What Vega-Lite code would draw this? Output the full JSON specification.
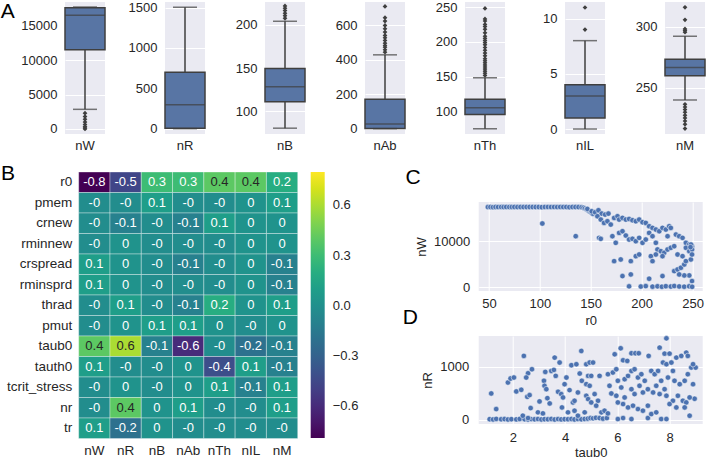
{
"$schema": "https://vega.github.io/schema/vega-lite/v6.json",
"background": "white",
"padding": {"left": 0, "top": 0, "right": 0, "bottom": 0},
"config": {
  "font": "Liberation Sans",
  "view": {"fill": "#EAEAF2", "stroke": null},
  "axis": {"domain": false, "ticks": false, "gridColor": "white", "gridWidth": 1, "labelFontSize": 13, "labelColor": "#262626", "titleFontSize": 13, "titleFontWeight": "normal", "titleColor": "#262626", "labelPadding": 8},
  "title": {"fontSize": 21, "fontWeight": "normal", "color": "#000000", "anchor": "start", "frame": "bounds"},
  "legend": {"labelFontSize": 13, "labelColor": "#262626"}
},
"datasets": {
  "box": [
    {"k": "nW", "lo": 2850, "q1": 11500, "med": 16490, "q3": 17600, "hi": 17700},
    {"k": "nR", "lo": 0, "q1": 4, "med": 296, "q3": 698, "hi": 1505},
    {"k": "nB", "lo": 80.7, "q1": 111.2, "med": 128.5, "q3": 149.3, "hi": 203.8},
    {"k": "nAb", "lo": 0, "q1": 1, "med": 27, "q3": 171, "hi": 429},
    {"k": "nTh", "lo": 75.5, "q1": 96.1, "med": 105.8, "q3": 117.7, "hi": 148.6},
    {"k": "nIL", "lo": 0, "q1": 1, "med": 3, "q3": 4, "hi": 8},
    {"k": "nM", "lo": 240.2, "q1": 260, "med": 266.7, "q3": 273.3, "hi": 292.1}
  ],
  "out": [
    {"k": "nW", "val": 2300}, {"k": "nW", "val": 1800}, {"k": "nW", "val": 1400}, {"k": "nW", "val": 1000}, {"k": "nW", "val": 650}, {"k": "nW", "val": 350}, {"k": "nW", "val": 150}, {"k": "nW", "val": 0},
    {"k": "nB", "val": 207.2}, {"k": "nB", "val": 210.3}, {"k": "nB", "val": 213}, {"k": "nB", "val": 216.1}, {"k": "nB", "val": 218.8}, {"k": "nB", "val": 221.5},
    {"k": "nAb", "val": 444.5}, {"k": "nAb", "val": 458.4}, {"k": "nAb", "val": 473.5}, {"k": "nAb", "val": 483.4}, {"k": "nAb", "val": 496.8}, {"k": "nAb", "val": 512.5}, {"k": "nAb", "val": 528.4}, {"k": "nAb", "val": 541.9}, {"k": "nAb", "val": 561}, {"k": "nAb", "val": 580.5}, {"k": "nAb", "val": 600}, {"k": "nAb", "val": 625}, {"k": "nAb", "val": 644.7}, {"k": "nAb", "val": 710.5},
    {"k": "nTh", "val": 152}, {"k": "nTh", "val": 155}, {"k": "nTh", "val": 158}, {"k": "nTh", "val": 161}, {"k": "nTh", "val": 164}, {"k": "nTh", "val": 167}, {"k": "nTh", "val": 170}, {"k": "nTh", "val": 173}, {"k": "nTh", "val": 176}, {"k": "nTh", "val": 180}, {"k": "nTh", "val": 184}, {"k": "nTh", "val": 188}, {"k": "nTh", "val": 192}, {"k": "nTh", "val": 196}, {"k": "nTh", "val": 199}, {"k": "nTh", "val": 202}, {"k": "nTh", "val": 205}, {"k": "nTh", "val": 208}, {"k": "nTh", "val": 213}, {"k": "nTh", "val": 218}, {"k": "nTh", "val": 222}, {"k": "nTh", "val": 225}, {"k": "nTh", "val": 230}, {"k": "nTh", "val": 233}, {"k": "nTh", "val": 248},
    {"k": "nIL", "val": 9}, {"k": "nIL", "val": 11},
    {"k": "nM", "val": 315.7}, {"k": "nM", "val": 305.5}, {"k": "nM", "val": 298.1}, {"k": "nM", "val": 296.7}, {"k": "nM", "val": 295.4}, {"k": "nM", "val": 236.7}, {"k": "nM", "val": 234.5}, {"k": "nM", "val": 232.4}, {"k": "nM", "val": 230.2}, {"k": "nM", "val": 227.7}, {"k": "nM", "val": 225.6}, {"k": "nM", "val": 223.1}, {"k": "nM", "val": 220.4}, {"k": "nM", "val": 216.9}
  ],
  "heat": [
    {"row": "r0", "col": "nW", "v": -0.79, "t": "-0.8"}, {"row": "r0", "col": "nR", "v": -0.46, "t": "-0.5"}, {"row": "r0", "col": "nB", "v": 0.3, "t": "0.3"}, {"row": "r0", "col": "nAb", "v": 0.3, "t": "0.3"}, {"row": "r0", "col": "nTh", "v": 0.4, "t": "0.4"}, {"row": "r0", "col": "nIL", "v": 0.4, "t": "0.4"}, {"row": "r0", "col": "nM", "v": 0.2, "t": "0.2"},
    {"row": "pmem", "col": "nW", "v": -0.02, "t": "-0"}, {"row": "pmem", "col": "nR", "v": -0.02, "t": "-0"}, {"row": "pmem", "col": "nB", "v": 0.1, "t": "0.1"}, {"row": "pmem", "col": "nAb", "v": -0.02, "t": "-0"}, {"row": "pmem", "col": "nTh", "v": -0.02, "t": "-0"}, {"row": "pmem", "col": "nIL", "v": 0.02, "t": "0"}, {"row": "pmem", "col": "nM", "v": 0.1, "t": "0.1"},
    {"row": "crnew", "col": "nW", "v": -0.02, "t": "-0"}, {"row": "crnew", "col": "nR", "v": -0.1, "t": "-0.1"}, {"row": "crnew", "col": "nB", "v": -0.02, "t": "-0"}, {"row": "crnew", "col": "nAb", "v": -0.1, "t": "-0.1"}, {"row": "crnew", "col": "nTh", "v": 0.1, "t": "0.1"}, {"row": "crnew", "col": "nIL", "v": 0.02, "t": "0"}, {"row": "crnew", "col": "nM", "v": 0.02, "t": "0"},
    {"row": "rminnew", "col": "nW", "v": -0.02, "t": "-0"}, {"row": "rminnew", "col": "nR", "v": 0.02, "t": "0"}, {"row": "rminnew", "col": "nB", "v": -0.02, "t": "-0"}, {"row": "rminnew", "col": "nAb", "v": -0.02, "t": "-0"}, {"row": "rminnew", "col": "nTh", "v": -0.02, "t": "-0"}, {"row": "rminnew", "col": "nIL", "v": 0.02, "t": "0"}, {"row": "rminnew", "col": "nM", "v": 0.02, "t": "0"},
    {"row": "crspread", "col": "nW", "v": 0.1, "t": "0.1"}, {"row": "crspread", "col": "nR", "v": 0.02, "t": "0"}, {"row": "crspread", "col": "nB", "v": -0.02, "t": "-0"}, {"row": "crspread", "col": "nAb", "v": -0.1, "t": "-0.1"}, {"row": "crspread", "col": "nTh", "v": -0.02, "t": "-0"}, {"row": "crspread", "col": "nIL", "v": 0.02, "t": "0"}, {"row": "crspread", "col": "nM", "v": -0.1, "t": "-0.1"},
    {"row": "rminsprd", "col": "nW", "v": 0.1, "t": "0.1"}, {"row": "rminsprd", "col": "nR", "v": 0.02, "t": "0"}, {"row": "rminsprd", "col": "nB", "v": -0.02, "t": "-0"}, {"row": "rminsprd", "col": "nAb", "v": -0.02, "t": "-0"}, {"row": "rminsprd", "col": "nTh", "v": -0.02, "t": "-0"}, {"row": "rminsprd", "col": "nIL", "v": 0.02, "t": "0"}, {"row": "rminsprd", "col": "nM", "v": -0.1, "t": "-0.1"},
    {"row": "thrad", "col": "nW", "v": -0.02, "t": "-0"}, {"row": "thrad", "col": "nR", "v": 0.1, "t": "0.1"}, {"row": "thrad", "col": "nB", "v": -0.02, "t": "-0"}, {"row": "thrad", "col": "nAb", "v": -0.1, "t": "-0.1"}, {"row": "thrad", "col": "nTh", "v": 0.2, "t": "0.2"}, {"row": "thrad", "col": "nIL", "v": 0.02, "t": "0"}, {"row": "thrad", "col": "nM", "v": 0.1, "t": "0.1"},
    {"row": "pmut", "col": "nW", "v": -0.02, "t": "-0"}, {"row": "pmut", "col": "nR", "v": 0.02, "t": "0"}, {"row": "pmut", "col": "nB", "v": 0.1, "t": "0.1"}, {"row": "pmut", "col": "nAb", "v": 0.1, "t": "0.1"}, {"row": "pmut", "col": "nTh", "v": 0.02, "t": "0"}, {"row": "pmut", "col": "nIL", "v": -0.02, "t": "-0"}, {"row": "pmut", "col": "nM", "v": 0.02, "t": "0"},
    {"row": "taub0", "col": "nW", "v": 0.4, "t": "0.4"}, {"row": "taub0", "col": "nR", "v": 0.6, "t": "0.6"}, {"row": "taub0", "col": "nB", "v": -0.1, "t": "-0.1"}, {"row": "taub0", "col": "nAb", "v": -0.6, "t": "-0.6"}, {"row": "taub0", "col": "nTh", "v": -0.02, "t": "-0"}, {"row": "taub0", "col": "nIL", "v": -0.2, "t": "-0.2"}, {"row": "taub0", "col": "nM", "v": -0.1, "t": "-0.1"},
    {"row": "tauth0", "col": "nW", "v": 0.1, "t": "0.1"}, {"row": "tauth0", "col": "nR", "v": -0.02, "t": "-0"}, {"row": "tauth0", "col": "nB", "v": -0.02, "t": "-0"}, {"row": "tauth0", "col": "nAb", "v": 0.02, "t": "0"}, {"row": "tauth0", "col": "nTh", "v": -0.42, "t": "-0.4"}, {"row": "tauth0", "col": "nIL", "v": 0.1, "t": "0.1"}, {"row": "tauth0", "col": "nM", "v": -0.1, "t": "-0.1"},
    {"row": "tcrit_stress", "col": "nW", "v": -0.02, "t": "-0"}, {"row": "tcrit_stress", "col": "nR", "v": 0.02, "t": "0"}, {"row": "tcrit_stress", "col": "nB", "v": -0.02, "t": "-0"}, {"row": "tcrit_stress", "col": "nAb", "v": 0.02, "t": "0"}, {"row": "tcrit_stress", "col": "nTh", "v": 0.1, "t": "0.1"}, {"row": "tcrit_stress", "col": "nIL", "v": -0.1, "t": "-0.1"}, {"row": "tcrit_stress", "col": "nM", "v": 0.1, "t": "0.1"},
    {"row": "nr", "col": "nW", "v": -0.02, "t": "-0"}, {"row": "nr", "col": "nR", "v": 0.4, "t": "0.4"}, {"row": "nr", "col": "nB", "v": 0.02, "t": "0"}, {"row": "nr", "col": "nAb", "v": 0.1, "t": "0.1"}, {"row": "nr", "col": "nTh", "v": -0.02, "t": "-0"}, {"row": "nr", "col": "nIL", "v": -0.02, "t": "-0"}, {"row": "nr", "col": "nM", "v": 0.1, "t": "0.1"},
    {"row": "tr", "col": "nW", "v": 0.1, "t": "0.1"}, {"row": "tr", "col": "nR", "v": -0.2, "t": "-0.2"}, {"row": "tr", "col": "nB", "v": 0.02, "t": "0"}, {"row": "tr", "col": "nAb", "v": -0.02, "t": "-0"}, {"row": "tr", "col": "nTh", "v": -0.02, "t": "-0"}, {"row": "tr", "col": "nIL", "v": -0.02, "t": "-0"}, {"row": "tr", "col": "nM", "v": -0.02, "t": "-0"}
  ],
  "sc": [
    {"r0": 49, "nW": 17440}, {"r0": 51.5, "nW": 17450}, {"r0": 54, "nW": 17420}, {"r0": 56.5, "nW": 17460}, {"r0": 59, "nW": 17440}, {"r0": 62, "nW": 17450}, {"r0": 64.5, "nW": 17430}, {"r0": 67, "nW": 17460}, {"r0": 70, "nW": 17440}, {"r0": 72.5, "nW": 17450}, {"r0": 75, "nW": 17460}, {"r0": 78, "nW": 17430}, {"r0": 81, "nW": 17450}, {"r0": 84, "nW": 17440}, {"r0": 87, "nW": 17450}, {"r0": 90, "nW": 17460}, {"r0": 93, "nW": 17440}, {"r0": 96, "nW": 17430}, {"r0": 99, "nW": 17450}, {"r0": 102, "nW": 17420}, {"r0": 105, "nW": 17450}, {"r0": 108, "nW": 17460}, {"r0": 111, "nW": 17440}, {"r0": 114, "nW": 17450}, {"r0": 117, "nW": 17430}, {"r0": 120, "nW": 17460}, {"r0": 123, "nW": 17440}, {"r0": 126, "nW": 17450}, {"r0": 129, "nW": 17420}, {"r0": 132, "nW": 17450}, {"r0": 135, "nW": 17440}, {"r0": 138, "nW": 17430}, {"r0": 141, "nW": 17400}, {"r0": 143, "nW": 17300}, {"r0": 144.5, "nW": 17150}, {"r0": 146, "nW": 16950}, {"r0": 147.5, "nW": 16700}, {"r0": 149, "nW": 16450}, {"r0": 150.5, "nW": 16250}, {"r0": 152, "nW": 16000},
    {"r0": 102.5, "nW": 13850}, {"r0": 135.3, "nW": 11090},
    {"r0": 146.7, "nW": 17028}, {"r0": 151, "nW": 16520}, {"r0": 154.3, "nW": 16303}, {"r0": 157.6, "nW": 16738}, {"r0": 160.8, "nW": 16013}, {"r0": 164.1, "nW": 15795}, {"r0": 167.4, "nW": 16013}, {"r0": 156.6, "nW": 15433}, {"r0": 159.9, "nW": 14708}, {"r0": 163.1, "nW": 13983}, {"r0": 166.4, "nW": 14345}, {"r0": 169.7, "nW": 13620}, {"r0": 173, "nW": 15070}, {"r0": 176.3, "nW": 15433}, {"r0": 177.9, "nW": 14708}, {"r0": 181.2, "nW": 15070}, {"r0": 184.5, "nW": 14708}, {"r0": 187.7, "nW": 14853}, {"r0": 191, "nW": 14563}, {"r0": 194.3, "nW": 14345}, {"r0": 197.6, "nW": 14708}, {"r0": 200.9, "nW": 14128}, {"r0": 204.1, "nW": 13983}, {"r0": 207.4, "nW": 13258}, {"r0": 210.7, "nW": 12895}, {"r0": 214, "nW": 12533}, {"r0": 217.3, "nW": 12170}, {"r0": 220.5, "nW": 12895}, {"r0": 223.8, "nW": 12533}, {"r0": 227.1, "nW": 13258}, {"r0": 228.7, "nW": 12895}, {"r0": 225.5, "nW": 11083}, {"r0": 233.7, "nW": 11445}, {"r0": 236.9, "nW": 11083}, {"r0": 240.2, "nW": 10720}, {"r0": 243.5, "nW": 9633}, {"r0": 246.8, "nW": 9270}, {"r0": 249.5, "nW": 8908}, {"r0": 248.5, "nW": 9270},
    {"r0": 158.2, "nW": 10720}, {"r0": 159.9, "nW": 10503}, {"r0": 171.3, "nW": 11083}, {"r0": 174.6, "nW": 9633}, {"r0": 177.9, "nW": 11808}, {"r0": 181.2, "nW": 12170}, {"r0": 184.5, "nW": 11228}, {"r0": 187.7, "nW": 10358}, {"r0": 191, "nW": 10503}, {"r0": 194.3, "nW": 9995}, {"r0": 197.6, "nW": 10720}, {"r0": 200.9, "nW": 9633}, {"r0": 204.1, "nW": 10358}, {"r0": 207.4, "nW": 11808}, {"r0": 210.7, "nW": 11083}, {"r0": 214, "nW": 9633}, {"r0": 215.6, "nW": 8183}, {"r0": 218.9, "nW": 7820}, {"r0": 222.2, "nW": 7458}, {"r0": 225.5, "nW": 8183}, {"r0": 228.7, "nW": 8545}, {"r0": 232, "nW": 8908}, {"r0": 235.3, "nW": 7095}, {"r0": 240.2, "nW": 6733}, {"r0": 243.5, "nW": 8545}, {"r0": 246.8, "nW": 7820}, {"r0": 249.5, "nW": 8183}, {"r0": 248, "nW": 8700},
    {"r0": 173, "nW": 5645}, {"r0": 179.5, "nW": 6008}, {"r0": 189.4, "nW": 5645}, {"r0": 194.3, "nW": 6733}, {"r0": 197.6, "nW": 7095}, {"r0": 209.1, "nW": 6733}, {"r0": 210.7, "nW": 5645}, {"r0": 214, "nW": 7095}, {"r0": 220.5, "nW": 6733}, {"r0": 232, "nW": 3470}, {"r0": 235.3, "nW": 3833}, {"r0": 238.6, "nW": 4195}, {"r0": 241.9, "nW": 4920}, {"r0": 243.5, "nW": 5645}, {"r0": 246.8, "nW": 2528}, {"r0": 241.9, "nW": 2528}, {"r0": 248.4, "nW": 6008}, {"r0": 249.5, "nW": 7095},
    {"r0": 181.2, "nW": 2383}, {"r0": 189.4, "nW": 2745}, {"r0": 207.4, "nW": 1803}, {"r0": 220.5, "nW": 2383}, {"r0": 236.9, "nW": 2745}, {"r0": 249.5, "nW": 1295},
    {"r0": 187.7, "nW": 150}, {"r0": 199.2, "nW": 100}, {"r0": 204.1, "nW": 200}, {"r0": 210.7, "nW": 80}, {"r0": 215.6, "nW": 150}, {"r0": 219.9, "nW": 50}, {"r0": 223.8, "nW": 180}, {"r0": 228.7, "nW": 100}, {"r0": 232, "nW": 220}, {"r0": 236.9, "nW": 120}, {"r0": 241.8, "nW": 60}, {"r0": 246.7, "nW": 150}, {"r0": 249.6, "nW": 40}
  ],
  "sd": [
    {"taub0": 1.11, "nR": 10}, {"taub0": 1.24, "nR": 5}, {"taub0": 1.36, "nR": 15}, {"taub0": 1.55, "nR": 8}, {"taub0": 1.68, "nR": 12}, {"taub0": 1.81, "nR": 4}, {"taub0": 1.94, "nR": 10}, {"taub0": 2.13, "nR": 6}, {"taub0": 2.26, "nR": 14}, {"taub0": 2.45, "nR": 9}, {"taub0": 2.58, "nR": 3}, {"taub0": 2.7, "nR": 11}, {"taub0": 2.83, "nR": 7}, {"taub0": 2.96, "nR": 13}, {"taub0": 3.09, "nR": 5}, {"taub0": 3.21, "nR": 10}, {"taub0": 3.34, "nR": 8}, {"taub0": 3.47, "nR": 15}, {"taub0": 3.6, "nR": 4}, {"taub0": 3.73, "nR": 12}, {"taub0": 3.85, "nR": 6}, {"taub0": 3.98, "nR": 10}, {"taub0": 4.11, "nR": 9}, {"taub0": 4.24, "nR": 14}, {"taub0": 4.36, "nR": 5}, {"taub0": 4.49, "nR": 11}, {"taub0": 4.62, "nR": 7}, {"taub0": 4.75, "nR": 13}, {"taub0": 4.87, "nR": 20}, {"taub0": 4.97, "nR": 30}, {"taub0": 5.07, "nR": 25}, {"taub0": 5.18, "nR": 35}, {"taub0": 5.32, "nR": 30}, {"taub0": 5.45, "nR": 20}, {"taub0": 5.6, "nR": 30}, {"taub0": 6.02, "nR": 12}, {"taub0": 6.22, "nR": 31}, {"taub0": 6.54, "nR": 12}, {"taub0": 7.17, "nR": 31}, {"taub0": 7.68, "nR": 12}, {"taub0": 7.88, "nR": 12},
    {"taub0": 1.17, "nR": 494}, {"taub0": 1.36, "nR": 200}, {"taub0": 1.81, "nR": 700}, {"taub0": 1.91, "nR": 775}, {"taub0": 2.04, "nR": 794}, {"taub0": 2.42, "nR": 1201}, {"taub0": 2.13, "nR": 532}, {"taub0": 2.32, "nR": 563}, {"taub0": 2.58, "nR": 875}, {"taub0": 2.51, "nR": 794}, {"taub0": 2.73, "nR": 950}, {"taub0": 2.55, "nR": 431}, {"taub0": 2.64, "nR": 463}, {"taub0": 2.68, "nR": 219}, {"taub0": 2.96, "nR": 138}, {"taub0": 3.02, "nR": 344}, {"taub0": 3.15, "nR": 119}, {"taub0": 3.19, "nR": 732}, {"taub0": 3.24, "nR": 900}, {"taub0": 3.21, "nR": 638}, {"taub0": 3.28, "nR": 575}, {"taub0": 3.32, "nR": 406}, {"taub0": 3.41, "nR": 306}, {"taub0": 3.47, "nR": 919}, {"taub0": 3.57, "nR": 938}, {"taub0": 3.6, "nR": 1169}, {"taub0": 3.64, "nR": 825}, {"taub0": 3.73, "nR": 525}, {"taub0": 3.79, "nR": 1076}, {"taub0": 3.85, "nR": 482}, {"taub0": 3.92, "nR": 419}, {"taub0": 3.88, "nR": 231}, {"taub0": 3.98, "nR": 669}, {"taub0": 4.05, "nR": 794}, {"taub0": 4.17, "nR": 557}, {"taub0": 4.24, "nR": 1026}, {"taub0": 4.3, "nR": 325}, {"taub0": 4.36, "nR": 356}, {"taub0": 4.43, "nR": 1044}, {"taub0": 4.49, "nR": 513}, {"taub0": 4.56, "nR": 869}, {"taub0": 4.62, "nR": 1294}, {"taub0": 4.64, "nR": 732}, {"taub0": 4.75, "nR": 138}, {"taub0": 4.81, "nR": 450}, {"taub0": 4.36, "nR": 169}, {"taub0": 4.49, "nR": 75}, {"taub0": 4.11, "nR": 138}, {"taub0": 2.38, "nR": 75}, {"taub0": 2.58, "nR": 31},
    {"taub0": 4.81, "nR": 1044}, {"taub0": 4.94, "nR": 1076}, {"taub0": 5.07, "nR": 1076}, {"taub0": 4.88, "nR": 825}, {"taub0": 5.0, "nR": 825}, {"taub0": 5.32, "nR": 825}, {"taub0": 4.81, "nR": 669}, {"taub0": 4.94, "nR": 638}, {"taub0": 5.13, "nR": 482}, {"taub0": 4.88, "nR": 388}, {"taub0": 5.0, "nR": 325}, {"taub0": 5.26, "nR": 356}, {"taub0": 5.19, "nR": 263}, {"taub0": 5.39, "nR": 138}, {"taub0": 5.51, "nR": 169}, {"taub0": 5.64, "nR": 119},
    {"taub0": 5.64, "nR": 857}, {"taub0": 5.83, "nR": 888}, {"taub0": 5.96, "nR": 950}, {"taub0": 6.02, "nR": 732}, {"taub0": 5.7, "nR": 638}, {"taub0": 5.77, "nR": 494}, {"taub0": 5.96, "nR": 450}, {"taub0": 6.15, "nR": 607}, {"taub0": 6.28, "nR": 763}, {"taub0": 6.41, "nR": 825}, {"taub0": 6.54, "nR": 919}, {"taub0": 6.66, "nR": 950}, {"taub0": 6.79, "nR": 794}, {"taub0": 6.92, "nR": 857}, {"taub0": 7.05, "nR": 732}, {"taub0": 5.9, "nR": 1232}, {"taub0": 6.13, "nR": 1345}, {"taub0": 6.22, "nR": 1119}, {"taub0": 6.38, "nR": 1107}, {"taub0": 6.54, "nR": 1251}, {"taub0": 6.69, "nR": 1251}, {"taub0": 6.82, "nR": 1251}, {"taub0": 7.2, "nR": 1201}, {"taub0": 7.62, "nR": 1357}, {"taub0": 7.88, "nR": 1532}, {"taub0": 7.81, "nR": 1244}, {"taub0": 8.0, "nR": 1244}, {"taub0": 7.75, "nR": 1076}, {"taub0": 7.88, "nR": 1044}, {"taub0": 8.07, "nR": 1076}, {"taub0": 8.26, "nR": 1169}, {"taub0": 8.45, "nR": 1201}, {"taub0": 8.64, "nR": 1263}, {"taub0": 8.7, "nR": 1201}, {"taub0": 8.83, "nR": 982}, {"taub0": 9.0, "nR": 982},
    {"taub0": 7.3, "nR": 919}, {"taub0": 7.43, "nR": 857}, {"taub0": 7.56, "nR": 919}, {"taub0": 7.68, "nR": 732}, {"taub0": 7.94, "nR": 794}, {"taub0": 8.13, "nR": 919}, {"taub0": 8.19, "nR": 732}, {"taub0": 8.39, "nR": 669}, {"taub0": 8.58, "nR": 732}, {"taub0": 8.7, "nR": 857}, {"taub0": 8.9, "nR": 669}, {"taub0": 8.96, "nR": 394}, {"taub0": 8.77, "nR": 419}, {"taub0": 8.51, "nR": 356}, {"taub0": 8.32, "nR": 450}, {"taub0": 8.13, "nR": 356}, {"taub0": 8.0, "nR": 294}, {"taub0": 8.26, "nR": 231}, {"taub0": 8.64, "nR": 325}, {"taub0": 8.58, "nR": 231},
    {"taub0": 6.28, "nR": 419}, {"taub0": 6.54, "nR": 575}, {"taub0": 6.66, "nR": 482}, {"taub0": 6.85, "nR": 638}, {"taub0": 6.98, "nR": 513}, {"taub0": 7.17, "nR": 575}, {"taub0": 7.37, "nR": 513}, {"taub0": 7.49, "nR": 638}, {"taub0": 7.62, "nR": 482}, {"taub0": 7.81, "nR": 575}, {"taub0": 7.88, "nR": 450},
    {"taub0": 6.02, "nR": 325}, {"taub0": 6.22, "nR": 294}, {"taub0": 6.41, "nR": 231}, {"taub0": 6.6, "nR": 263}, {"taub0": 6.79, "nR": 200}, {"taub0": 6.98, "nR": 169}, {"taub0": 7.17, "nR": 263}, {"taub0": 7.3, "nR": 106}, {"taub0": 7.49, "nR": 138}, {"taub0": 8.77, "nR": 75}, {"taub0": 8.9, "nR": 1045}
  ]
},
"columns": 1,
"align": "none",
"spacing": 10,
"resolve": {"scale": {"color": "independent"}, "legend": {"color": "independent"}},
"concat": [
  {
    "bounds": "flush",
    "spacing": 60,
    "hconcat": [
      {
        "width": 40, "height": 132,
        "title": {"text": "A", "dx": -20, "dy": 19.5, "offset": 0, "baseline": "top"},
        "data": {"name": "box"}, "transform": [{"filter": "datum.k == 'nW'"}],
        "encoding": {"x": {"field": "k", "type": "nominal", "title": null, "axis": {"labelAngle": 0, "labelPadding": 5, "grid": false}, "scale": {"paddingInner": 0, "paddingOuter": 0}}},
        "layer": [
          {"mark": {"type": "rule", "color": "#3F3F3F", "strokeWidth": 1.5}, "encoding": {"y": {"field": "lo", "type": "quantitative", "title": null, "scale": {"domain": [-730, 18430], "nice": false, "zero": false}, "axis": {"values": [0, 5000, 10000, 15000], "format": "d"}}, "y2": {"field": "hi"}}},
          {"mark": {"type": "bar", "color": "#5875A4", "stroke": "#3F3F3F", "strokeWidth": 1.5}, "encoding": {"y": {"field": "q1", "type": "quantitative", "title": null}, "y2": {"field": "q3"}}},
          {"mark": {"type": "tick", "color": "#3F3F3F", "thickness": 1.5, "size": 40}, "encoding": {"y": {"field": "med", "type": "quantitative", "title": null}}},
          {"mark": {"type": "tick", "color": "#3F3F3F", "thickness": 1.5, "size": 24}, "encoding": {"y": {"field": "lo", "type": "quantitative", "title": null}}},
          {"mark": {"type": "tick", "color": "#3F3F3F", "thickness": 1.5, "size": 24}, "encoding": {"y": {"field": "hi", "type": "quantitative", "title": null}}},
          {"data": {"name": "out"}, "transform": [{"filter": "datum.k == 'nW'"}], "mark": {"type": "point", "shape": "diamond", "filled": true, "color": "#3F3F3F", "size": 22, "opacity": 1}, "encoding": {"y": {"field": "val", "type": "quantitative", "title": null}}}
        ]
      },
      {
        "width": 40, "height": 132,
        "data": {"name": "box"}, "transform": [{"filter": "datum.k == 'nR'"}],
        "encoding": {"x": {"field": "k", "type": "nominal", "title": null, "axis": {"labelAngle": 0, "labelPadding": 5, "grid": false}, "scale": {"paddingInner": 0, "paddingOuter": 0}}},
        "layer": [
          {"mark": {"type": "rule", "color": "#3F3F3F", "strokeWidth": 1.5}, "encoding": {"y": {"field": "lo", "type": "quantitative", "title": null, "scale": {"domain": [-66, 1570], "nice": false, "zero": false}, "axis": {"values": [0, 500, 1000, 1500], "format": "d"}}, "y2": {"field": "hi"}}},
          {"mark": {"type": "bar", "color": "#5875A4", "stroke": "#3F3F3F", "strokeWidth": 1.5}, "encoding": {"y": {"field": "q1", "type": "quantitative", "title": null}, "y2": {"field": "q3"}}},
          {"mark": {"type": "tick", "color": "#3F3F3F", "thickness": 1.5, "size": 40}, "encoding": {"y": {"field": "med", "type": "quantitative", "title": null}}},
          {"mark": {"type": "tick", "color": "#3F3F3F", "thickness": 1.5, "size": 24}, "encoding": {"y": {"field": "lo", "type": "quantitative", "title": null}}},
          {"mark": {"type": "tick", "color": "#3F3F3F", "thickness": 1.5, "size": 24}, "encoding": {"y": {"field": "hi", "type": "quantitative", "title": null}}}
        ]
      },
      {
        "width": 40, "height": 132,
        "data": {"name": "box"}, "transform": [{"filter": "datum.k == 'nB'"}],
        "encoding": {"x": {"field": "k", "type": "nominal", "title": null, "axis": {"labelAngle": 0, "labelPadding": 5, "grid": false}, "scale": {"paddingInner": 0, "paddingOuter": 0}}},
        "layer": [
          {"mark": {"type": "rule", "color": "#3F3F3F", "strokeWidth": 1.5}, "encoding": {"y": {"field": "lo", "type": "quantitative", "title": null, "scale": {"domain": [74, 226], "nice": false, "zero": false}, "axis": {"values": [100, 150, 200], "format": "d"}}, "y2": {"field": "hi"}}},
          {"mark": {"type": "bar", "color": "#5875A4", "stroke": "#3F3F3F", "strokeWidth": 1.5}, "encoding": {"y": {"field": "q1", "type": "quantitative", "title": null}, "y2": {"field": "q3"}}},
          {"mark": {"type": "tick", "color": "#3F3F3F", "thickness": 1.5, "size": 40}, "encoding": {"y": {"field": "med", "type": "quantitative", "title": null}}},
          {"mark": {"type": "tick", "color": "#3F3F3F", "thickness": 1.5, "size": 24}, "encoding": {"y": {"field": "lo", "type": "quantitative", "title": null}}},
          {"mark": {"type": "tick", "color": "#3F3F3F", "thickness": 1.5, "size": 24}, "encoding": {"y": {"field": "hi", "type": "quantitative", "title": null}}},
          {"data": {"name": "out"}, "transform": [{"filter": "datum.k == 'nB'"}], "mark": {"type": "point", "shape": "diamond", "filled": true, "color": "#3F3F3F", "size": 22, "opacity": 1}, "encoding": {"y": {"field": "val", "type": "quantitative", "title": null}}}
        ]
      },
      {
        "width": 40, "height": 132,
        "data": {"name": "box"}, "transform": [{"filter": "datum.k == 'nAb'"}],
        "encoding": {"x": {"field": "k", "type": "nominal", "title": null, "axis": {"labelAngle": 0, "labelPadding": 5, "grid": false}, "scale": {"paddingInner": 0, "paddingOuter": 0}}},
        "layer": [
          {"mark": {"type": "rule", "color": "#3F3F3F", "strokeWidth": 1.5}, "encoding": {"y": {"field": "lo", "type": "quantitative", "title": null, "scale": {"domain": [-31, 736], "nice": false, "zero": false}, "axis": {"values": [0, 200, 400, 600], "format": "d"}}, "y2": {"field": "hi"}}},
          {"mark": {"type": "bar", "color": "#5875A4", "stroke": "#3F3F3F", "strokeWidth": 1.5}, "encoding": {"y": {"field": "q1", "type": "quantitative", "title": null}, "y2": {"field": "q3"}}},
          {"mark": {"type": "tick", "color": "#3F3F3F", "thickness": 1.5, "size": 40}, "encoding": {"y": {"field": "med", "type": "quantitative", "title": null}}},
          {"mark": {"type": "tick", "color": "#3F3F3F", "thickness": 1.5, "size": 24}, "encoding": {"y": {"field": "lo", "type": "quantitative", "title": null}}},
          {"mark": {"type": "tick", "color": "#3F3F3F", "thickness": 1.5, "size": 24}, "encoding": {"y": {"field": "hi", "type": "quantitative", "title": null}}},
          {"data": {"name": "out"}, "transform": [{"filter": "datum.k == 'nAb'"}], "mark": {"type": "point", "shape": "diamond", "filled": true, "color": "#3F3F3F", "size": 22, "opacity": 1}, "encoding": {"y": {"field": "val", "type": "quantitative", "title": null}}}
        ]
      },
      {
        "width": 40, "height": 132,
        "data": {"name": "box"}, "transform": [{"filter": "datum.k == 'nTh'"}],
        "encoding": {"x": {"field": "k", "type": "nominal", "title": null, "axis": {"labelAngle": 0, "labelPadding": 5, "grid": false}, "scale": {"paddingInner": 0, "paddingOuter": 0}}},
        "layer": [
          {"mark": {"type": "rule", "color": "#3F3F3F", "strokeWidth": 1.5}, "encoding": {"y": {"field": "lo", "type": "quantitative", "title": null, "scale": {"domain": [68, 257.2], "nice": false, "zero": false}, "axis": {"values": [100, 150, 200, 250], "format": "d"}}, "y2": {"field": "hi"}}},
          {"mark": {"type": "bar", "color": "#5875A4", "stroke": "#3F3F3F", "strokeWidth": 1.5}, "encoding": {"y": {"field": "q1", "type": "quantitative", "title": null}, "y2": {"field": "q3"}}},
          {"mark": {"type": "tick", "color": "#3F3F3F", "thickness": 1.5, "size": 40}, "encoding": {"y": {"field": "med", "type": "quantitative", "title": null}}},
          {"mark": {"type": "tick", "color": "#3F3F3F", "thickness": 1.5, "size": 24}, "encoding": {"y": {"field": "lo", "type": "quantitative", "title": null}}},
          {"mark": {"type": "tick", "color": "#3F3F3F", "thickness": 1.5, "size": 24}, "encoding": {"y": {"field": "hi", "type": "quantitative", "title": null}}},
          {"data": {"name": "out"}, "transform": [{"filter": "datum.k == 'nTh'"}], "mark": {"type": "point", "shape": "diamond", "filled": true, "color": "#3F3F3F", "size": 22, "opacity": 1}, "encoding": {"y": {"field": "val", "type": "quantitative", "title": null}}}
        ]
      },
      {
        "width": 40, "height": 132,
        "data": {"name": "box"}, "transform": [{"filter": "datum.k == 'nIL'"}],
        "encoding": {"x": {"field": "k", "type": "nominal", "title": null, "axis": {"labelAngle": 0, "labelPadding": 5, "grid": false}, "scale": {"paddingInner": 0, "paddingOuter": 0}}},
        "layer": [
          {"mark": {"type": "rule", "color": "#3F3F3F", "strokeWidth": 1.5}, "encoding": {"y": {"field": "lo", "type": "quantitative", "title": null, "scale": {"domain": [-0.45, 11.5], "nice": false, "zero": false}, "axis": {"values": [0, 5, 10], "format": "d"}}, "y2": {"field": "hi"}}},
          {"mark": {"type": "bar", "color": "#5875A4", "stroke": "#3F3F3F", "strokeWidth": 1.5}, "encoding": {"y": {"field": "q1", "type": "quantitative", "title": null}, "y2": {"field": "q3"}}},
          {"mark": {"type": "tick", "color": "#3F3F3F", "thickness": 1.5, "size": 40}, "encoding": {"y": {"field": "med", "type": "quantitative", "title": null}}},
          {"mark": {"type": "tick", "color": "#3F3F3F", "thickness": 1.5, "size": 24}, "encoding": {"y": {"field": "lo", "type": "quantitative", "title": null}}},
          {"mark": {"type": "tick", "color": "#3F3F3F", "thickness": 1.5, "size": 24}, "encoding": {"y": {"field": "hi", "type": "quantitative", "title": null}}},
          {"data": {"name": "out"}, "transform": [{"filter": "datum.k == 'nIL'"}], "mark": {"type": "point", "shape": "diamond", "filled": true, "color": "#3F3F3F", "size": 22, "opacity": 1}, "encoding": {"y": {"field": "val", "type": "quantitative", "title": null}}}
        ]
      },
      {
        "width": 40, "height": 132,
        "data": {"name": "box"}, "transform": [{"filter": "datum.k == 'nM'"}],
        "encoding": {"x": {"field": "k", "type": "nominal", "title": null, "axis": {"labelAngle": 0, "labelPadding": 5, "grid": false}, "scale": {"paddingInner": 0, "paddingOuter": 0}}},
        "layer": [
          {"mark": {"type": "rule", "color": "#3F3F3F", "strokeWidth": 1.5}, "encoding": {"y": {"field": "lo", "type": "quantitative", "title": null, "scale": {"domain": [212.5, 320], "nice": false, "zero": false}, "axis": {"values": [250, 300], "format": "d"}}, "y2": {"field": "hi"}}},
          {"mark": {"type": "bar", "color": "#5875A4", "stroke": "#3F3F3F", "strokeWidth": 1.5}, "encoding": {"y": {"field": "q1", "type": "quantitative", "title": null}, "y2": {"field": "q3"}}},
          {"mark": {"type": "tick", "color": "#3F3F3F", "thickness": 1.5, "size": 40}, "encoding": {"y": {"field": "med", "type": "quantitative", "title": null}}},
          {"mark": {"type": "tick", "color": "#3F3F3F", "thickness": 1.5, "size": 24}, "encoding": {"y": {"field": "lo", "type": "quantitative", "title": null}}},
          {"mark": {"type": "tick", "color": "#3F3F3F", "thickness": 1.5, "size": 24}, "encoding": {"y": {"field": "hi", "type": "quantitative", "title": null}}},
          {"data": {"name": "out"}, "transform": [{"filter": "datum.k == 'nM'"}], "mark": {"type": "point", "shape": "diamond", "filled": true, "color": "#3F3F3F", "size": 22, "opacity": 1}, "encoding": {"y": {"field": "val", "type": "quantitative", "title": null}}}
        ]
      }
    ]
  },
  {
    "bounds": "flush",
    "spacing": 12.7,
    "resolve": {"scale": {"color": "independent"}, "legend": {"color": "independent"}},
    "hconcat": [
      {
        "width": 1, "height": 1,
        "view": {"fill": null, "stroke": null},
        "data": {"values": [{"gap": 0}]},
        "mark": {"type": "rule", "opacity": 0},
        "encoding": {}
      },
      {
        "bounds": "flush",
        "spacing": 181,
        "resolve": {"scale": {"color": "independent"}, "legend": {"color": "independent"}},
        "hconcat": [
          {
            "width": 219, "height": 266.5,
            "title": {"text": "B", "dx": -5.4, "dy": 12, "offset": 0, "baseline": "top"},
            "data": {"name": "heat"},
            "encoding": {
              "x": {"field": "col", "type": "nominal", "title": null, "sort": ["nW", "nR", "nB", "nAb", "nTh", "nIL", "nM"], "axis": {"labelAngle": 0, "labelPadding": 5, "labelFontSize": 13.5, "grid": false}, "scale": {"paddingInner": 0, "paddingOuter": 0}},
              "y": {"field": "row", "type": "nominal", "title": null, "sort": ["r0", "pmem", "crnew", "rminnew", "crspread", "rminsprd", "thrad", "pmut", "taub0", "tauth0", "tcrit_stress", "nr", "tr"], "axis": {"labelPadding": 7, "labelFontSize": 13.5, "grid": false}, "scale": {"paddingInner": 0, "paddingOuter": 0}}
            },
            "layer": [
              {"mark": {"type": "rect", "stroke": "white", "strokeWidth": 0.5, "strokeOpacity": 0.7},
               "encoding": {"color": {"field": "v", "type": "quantitative", "scale": {"scheme": "viridis", "domain": [-0.79, 0.8]},
                 "legend": {"title": null, "orient": "right", "direction": "vertical", "gradientLength": 266, "gradientThickness": 14, "values": [-0.6, -0.3, 0, 0.3, 0.6], "format": ".1f", "offset": 13, "padding": 0, "labelOffset": 8}}}},
              {"mark": {"type": "text", "fontSize": 13},
               "encoding": {"text": {"field": "t"}, "fill": {"condition": {"test": "datum.v >= 0.35", "value": "#262626"}, "value": "white"}}}
            ]
          },
          {
            "bounds": "flush",
            "spacing": 29,
            "vconcat": [
              {
                "width": 224, "height": 1,
                "view": {"fill": null, "stroke": null},
                "data": {"values": [{"gap": 0}]},
                "mark": {"type": "rule", "opacity": 0},
                "encoding": {}
              },
              {
                "bounds": "flush",
                "spacing": 45,
                "vconcat": [
                  {
                    "width": 224, "height": 89,
                    "title": {"text": "C", "dx": -10, "dy": 17, "offset": 14, "baseline": "alphabetic"},
                    "data": {"name": "sc"},
                    "mark": {"type": "circle", "color": "#4C72B0", "stroke": "white", "strokeWidth": 0.5, "size": 30, "opacity": 1},
                    "encoding": {
                      "x": {"field": "r0", "type": "quantitative", "title": "r0", "scale": {"domain": [40, 260], "nice": false, "zero": false}, "axis": {"values": [50, 100, 150, 200, 250], "grid": true, "labelPadding": 6, "titlePadding": 4}},
                      "y": {"field": "nW", "type": "quantitative", "title": "nW", "scale": {"domain": [-870, 18543], "nice": false, "zero": false}, "axis": {"values": [0, 10000], "format": "d", "labelPadding": 9, "titlePadding": 5}}
                    }
                  },
                  {
                    "width": 224, "height": 88,
                    "title": {"text": "D", "dx": -19, "dy": 20, "offset": 10, "baseline": "alphabetic"},
                    "data": {"name": "sd"},
                    "mark": {"type": "circle", "color": "#4C72B0", "stroke": "white", "strokeWidth": 0.5, "size": 30, "opacity": 1},
                    "encoding": {
                      "x": {"field": "taub0", "type": "quantitative", "title": "taub0", "scale": {"domain": [0.69, 9.27], "nice": false, "zero": false}, "axis": {"values": [2, 4, 6, 8], "grid": true, "labelPadding": 7, "titlePadding": 2}},
                      "y": {"field": "nR", "type": "quantitative", "title": "nR", "scale": {"domain": [-81, 1576], "nice": false, "zero": false}, "axis": {"values": [0, 1000], "format": "d", "labelPadding": 10, "titlePadding": 5}}
                    }
                  }
                ]
              }
            ]
          }
        ]
      }
    ]
  }
]
}
